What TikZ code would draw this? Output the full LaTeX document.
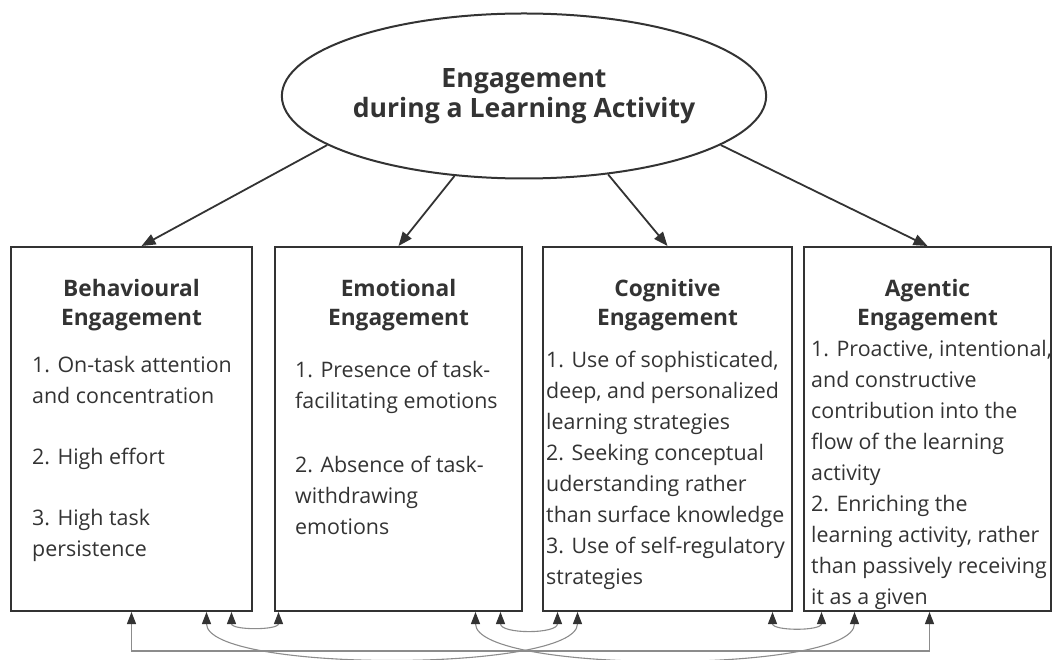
\documentclass[tikz,border=0pt]{standalone}
\usepackage{fontspec}
\setmainfont{Open Sans}
\usepackage{xcolor}
\usetikzlibrary{arrows.meta,shapes.geometric,positioning}
\definecolor{ink}{HTML}{333333}
\definecolor{wire}{HTML}{8C8C8C}

\begin{document}
\begin{tikzpicture}
	[x=1pt,y=1pt,
	box/.style={draw=ink,line width=2pt,minimum height=364pt,inner sep=0pt},
	head/.style={font=\fontsize{22.7}{29}\selectfont\bfseries,text=ink,align=center,anchor=base,inner sep=0pt},
	item/.style={font=\fontsize{21.4}{31}\selectfont,text=ink,align=left,anchor=north west,inner sep=0pt},
	feed/.style={draw=ink,line width=1.8pt,-{Triangle[length=14pt,width=11pt]}},
	link/.style={draw=wire,line width=1.1pt,{Triangle[length=12pt,width=9pt,color=ink]}-{Triangle[length=12pt,width=9pt,color=ink]}}]
	\useasboundingbox (0,0) rectangle (1054,659);
	\node[ellipse,draw=ink,line width=2pt,minimum width=392pt,minimum height=165pt,inner sep=0pt,
		font=\fontsize{26.6}{29.5}\selectfont\bfseries,text=ink,align=center] (act) at (524,563)
		{Engagement\\during a Learning Activity};
	\node[box,minimum width=241pt] (beh) at (131.5,230) {};
	\node[box,minimum width=247pt] (emo) at (398.5,230) {};
	\node[box,minimum width=249pt] (cog) at (667.5,230) {};
	\node[box,minimum width=247pt] (agt) at (927.5,230) {};
	% headings
	\node[head] (behh) at ([yshift=-80pt]beh.north) {Behavioural\\Engagement};
	\node[head] (emoh) at ([yshift=-80pt]emo.north) {Emotional\\Engagement};
	\node[head] (cogh) at ([yshift=-80pt]cog.north) {Cognitive\\Engagement};
	\node[head] (agth) at ([yshift=-80pt]agt.north) {Agentic\\Engagement};
	% items
	\node[item] (behi) at ([shift={(22,-110)}]beh.north west)
		{1. On-task attention\\and concentration\\[30pt]2. High effort\\[30pt]3. High task\\persistence};
	\node[item] (emoi) at ([shift={(21,-115)}]emo.north west)
		{1. Presence of task-\\facilitating emotions\\[33pt]2. Absence of task-\\withdrawing\\emotions};
	\node[item] (cogi) at ([shift={(4,-105)}]cog.north west)
		{1. Use of sophisticated,\\deep, and personalized\\learning strategies\\2. Seeking conceptual\\uderstanding rather\\than surface knowledge\\3. Use of self-regulatory\\strategies};
	\node[item] (agti) at ([shift={(8,-94)}]agt.north west)
		{1. Proactive, intentional,\\and constructive\\contribution into the\\flow of the learning\\activity\\2. Enriching the\\learning activity, rather\\than passively receiving\\it as a given};
	% from the whole to the parts
	\draw[feed] (act.194) -- ([xshift=10pt]beh.north);
	\draw[feed] (act.229) -- (emo.north);
	\draw[feed] (act.317) -- (cog.north);
	\draw[feed] (act.346) -- (agt.north);
	% links between the parts
	\draw[link] ([xshift=100pt]beh.south) to[out=-90,in=-90] ([xshift=-120pt]emo.south);
	\draw[link] ([xshift=102pt]emo.south) to[out=-90,in=-90] ([xshift=-110pt]cog.south);
	\draw[link] ([xshift=105pt]cog.south) to[out=-90,in=-90] ([xshift=-106pt]agt.south);
	\draw[link] ([xshift=75pt]beh.south) to[out=-90,in=-90,looseness=0.42] ([xshift=-90pt]cog.south);
	\draw[link] ([xshift=77pt]emo.south) to[out=-90,in=-90,looseness=0.42] ([xshift=-73pt]agt.south);
	\draw[link] (beh.south) -- ++(0,-39) -| ([xshift=2pt]agt.south);
\end{tikzpicture}
\end{document}
